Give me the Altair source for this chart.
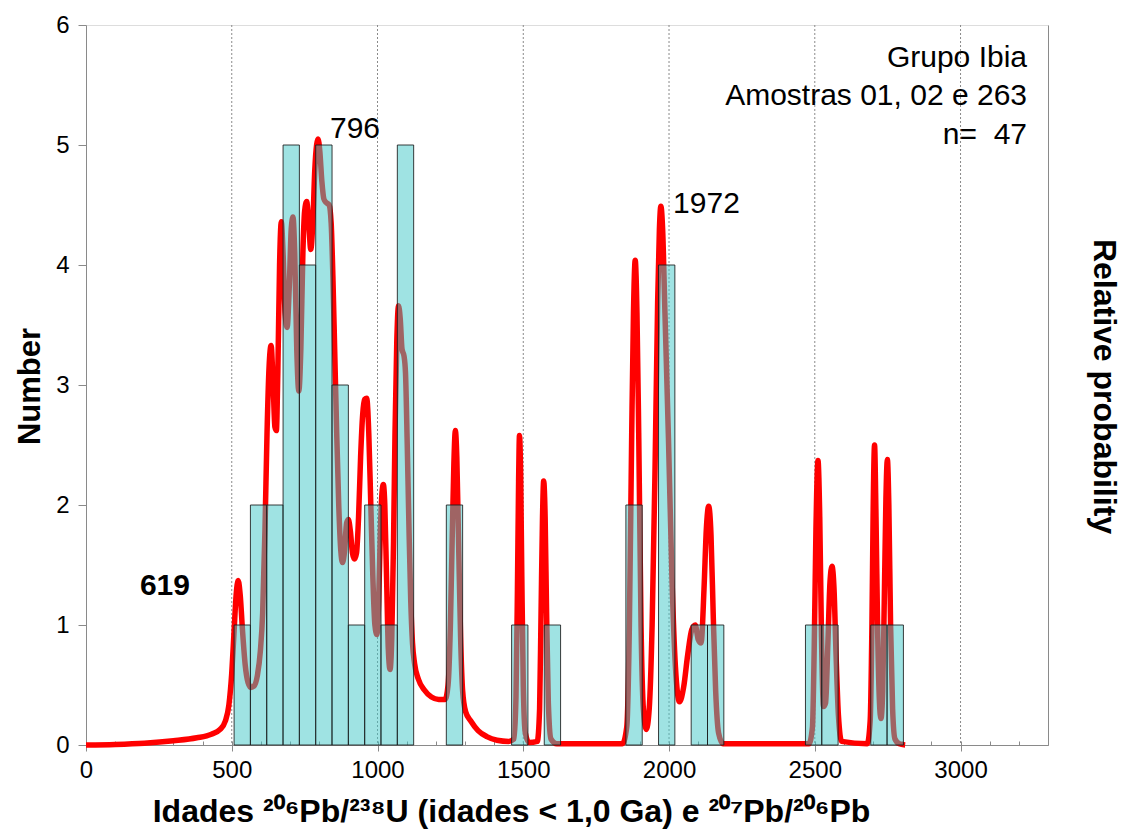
import altair as alt
import pandas as pd

# ---- histogram (bin starts, width 56 Ma) ----
bin_start = [508, 564, 620, 676, 732, 788, 844, 900, 956, 1012, 1068,
             1236, 1460, 1572, 1852, 1964, 2076, 2132, 2468, 2524, 2692, 2748]
bin_count = [1, 2, 2, 5, 4, 5, 3, 1, 2, 1, 5,
             2, 1, 1, 2, 4, 1, 1, 1, 1, 1, 1]
bin_width = 56

# ---- probability density curve (in "Number" units) ----
curve_age = [0, 100, 200, 300, 380, 430, 460, 478, 490, 500, 508, 515, 522, 529, 537, 546, 556, 566, 576,
             588, 598, 606, 614, 621, 628, 635, 642, 648, 653, 658, 664, 670, 676, 683, 690, 697, 704, 710,
             716, 723, 730, 737, 744, 750, 757, 764, 771, 778, 785, 791, 796, 802, 809, 816, 824, 834, 841,
             847, 853, 860, 867, 874, 880, 887, 894, 900, 907, 914, 921, 928, 935, 942, 949, 956, 963, 970,
             977, 984, 991, 998, 1004, 1010, 1016, 1020, 1025, 1031, 1037, 1043, 1049, 1055, 1060, 1066,
             1072, 1078, 1084, 1091, 1096, 1102, 1108, 1114, 1120, 1127, 1140, 1160, 1185, 1210, 1232,
             1242, 1250, 1256, 1262, 1267, 1272, 1278, 1285, 1292, 1302, 1320, 1345, 1375, 1410, 1450,
             1468, 1475, 1480, 1484, 1487, 1491, 1495, 1500, 1507, 1520, 1548, 1556, 1561, 1566, 1570,
             1575, 1580, 1586, 1595, 1615, 1840, 1855, 1864, 1872, 1878, 1884, 1890, 1896, 1904, 1912,
             1922, 1932, 1942, 1952, 1961, 1967, 1972, 1978, 1986, 1998, 2010, 2022, 2036, 2050, 2064,
             2078, 2090, 2100, 2110, 2120, 2128, 2136, 2144, 2152, 2160, 2170, 2185, 2480, 2492, 2498,
             2504, 2511, 2517, 2523, 2530, 2537, 2545, 2552, 2559, 2566, 2573, 2581, 2592, 2680, 2690,
             2696, 2700, 2705, 2710, 2716, 2722, 2727, 2733, 2739, 2744, 2749, 2754, 2760, 2767, 2775,
             2790, 2810]
curve_prob = [0.0, 0.005, 0.015, 0.035, 0.06, 0.09, 0.13, 0.2, 0.33, 0.6, 0.95, 1.25, 1.37, 1.25, 0.95, 0.67,
              0.52, 0.48, 0.49, 0.58, 0.78, 1.1, 1.8, 2.6, 3.15, 3.33, 3.0, 2.65, 2.62, 3.1, 4.0, 4.36, 4.1,
              3.6, 3.48, 3.8, 4.3, 4.4, 4.1, 3.3, 2.95, 3.3, 4.1, 4.45, 4.53, 4.35, 4.13, 4.35, 4.8, 5.0,
              5.05, 4.95, 4.7, 4.55, 4.52, 4.5, 4.35, 3.9, 3.3, 2.6, 2.0, 1.62, 1.52, 1.62, 1.85, 1.88,
              1.78, 1.6, 1.55, 1.6, 1.9, 2.4, 2.75, 2.88, 2.89, 2.6, 2.0, 1.4, 1.0, 0.92, 1.2, 1.8, 2.12,
              2.17, 2.0, 1.4, 0.8, 0.63, 0.9, 1.7, 2.6, 3.35, 3.66, 3.55, 3.3, 3.24, 3.1, 2.5, 1.8, 1.2,
              0.85, 0.68, 0.55, 0.46, 0.4, 0.38, 0.38, 0.5, 1.0, 1.7, 2.35, 2.62, 2.4, 1.7, 0.9, 0.45,
              0.28, 0.2, 0.12, 0.07, 0.04, 0.03, 0.05, 0.4, 1.3, 2.2, 2.58, 2.25, 1.4, 0.5, 0.1, 0.02,
              0.03, 0.3, 1.1, 1.9, 2.2, 1.9, 1.1, 0.35, 0.05, 0.01, 0.01, 0.15, 1.0, 2.6, 3.6, 4.04, 3.6,
              2.6, 1.0, 0.3, 0.13, 0.3, 1.0, 2.3, 3.7, 4.3, 4.49, 4.3, 3.6, 2.56, 1.4, 0.65, 0.36, 0.48,
              0.75, 0.96, 1.0, 0.88, 0.85, 1.3, 1.8, 1.99, 1.75, 1.05, 0.45, 0.1, 0.01, 0.01, 0.15, 0.8,
              1.8, 2.37, 1.9, 0.9, 0.32, 0.35, 0.85, 1.35, 1.49, 1.3, 0.75, 0.25, 0.03, 0.01, 0.2, 1.0,
              1.9, 2.5, 1.9, 0.9, 0.35, 0.22, 0.45, 1.3, 2.05, 2.38, 2.0, 1.0, 0.3, 0.05, 0.01, 0.0]

grid_ages = [500, 1000, 1500, 2000, 2500, 3000]
x_major_values = [0, 500, 1000, 1500, 2000, 2500, 3000]
x_minor_values = [0, 100, 200, 300, 400, 500, 600, 700, 800, 900, 1000, 1100, 1200, 1300, 1400, 1500,
                  1600, 1700, 1800, 1900, 2000, 2100, 2200, 2300, 2400, 2500, 2600, 2700, 2800, 2900,
                  3000, 3100, 3200, 3300]
y_tick_values = [0, 1, 2, 3, 4, 5, 6]

peak_labels = ["796", "1972"]
peak_label_age = [837, 2014]
peak_label_y = [5.06, 4.43]

bold_labels = ["619"]
bold_label_age = [185]
bold_label_y = [1.25]

info_lines = ["Grupo Ibia", "Amostras 01, 02 e 263", "n=\u00a0\u00a047"]
info_age = [3228, 3228, 3228]
info_y = [5.65, 5.33, 5.01]

FONT = "Liberation Sans"
GRAY = "#8a8a8a"

bins_df = pd.DataFrame({"start": bin_start, "count": bin_count})
bins_df["end"] = bins_df["start"] + bin_width
curve_df = pd.DataFrame({"age": curve_age, "prob": curve_prob})
grid_df = pd.DataFrame({"age": grid_ages})
peak_df = pd.DataFrame({"t": peak_labels, "age": peak_label_age, "y": peak_label_y})
bold_df = pd.DataFrame({"t": bold_labels, "age": bold_label_age, "y": bold_label_y})
info_df = pd.DataFrame({"t": info_lines, "age": info_age, "y": info_y})

xscale = alt.Scale(domain=[0, 3300], nice=False, zero=False)
yscale = alt.Scale(domain=[0, 6], nice=False, zero=True)

x_major_axis = alt.Axis(
    orient="bottom", values=x_major_values, format="d",
    grid=False, tickSize=6, tickColor=GRAY, domainColor=GRAY,
    labelFont=FONT, labelFontSize=24, labelColor="black", labelPadding=7,
    labelFlush=False, labelOverlap=False,
    title="Idades \u00b2\u2070\u2076Pb/\u00b2\u00b3\u2078U (idades < 1,0 Ga) e \u00b2\u2070\u2077Pb/\u00b2\u2070\u2076Pb",
    titleFont=FONT, titleFontSize=32, titleFontWeight="bold", titleColor="black",
    titleX=425, titleY=76, titleAlign="center", titleBaseline="alphabetic",
)

x_minor_axis = alt.Axis(
    orient="bottom", values=x_minor_values, labels=False, domain=False, grid=False,
    tickSize=4, tickColor=GRAY, offset=-4, title=None,
)

grid = alt.Chart(grid_df).mark_rule(color=GRAY, strokeDash=[2, 2], strokeWidth=1).encode(
    x=alt.X("age:Q", scale=xscale, axis=x_major_axis)
)

line = alt.Chart(curve_df).mark_line(
    color="#ff0000", strokeWidth=5.5, interpolate="monotone", strokeJoin="round"
).encode(
    x=alt.X("age:Q", scale=xscale, axis=None),
    y=alt.Y("prob:Q", scale=yscale, axis=alt.Axis(
        orient="right", title="Relative probability", labels=False, ticks=False, grid=False,
        domainColor=GRAY, domainWidth=1,
        titleFont=FONT, titleFontSize=32, titleFontWeight="bold", titleColor="black",
        titleAngle=90, titleAlign="center", titleBaseline="middle", titleX=55, titleY=361,
    )),
)

bars = alt.Chart(bins_df).mark_rect(
    fill="#40c8c8", fillOpacity=0.5, stroke="#1a1a1a", strokeWidth=1, strokeOpacity=0.85
).encode(
    x=alt.X("start:Q", scale=xscale, axis=x_minor_axis),
    x2="end:Q",
    y=alt.Y("count:Q", scale=yscale, axis=alt.Axis(
        orient="left", values=y_tick_values, grid=False, tickSize=8, tickColor=GRAY, domainColor=GRAY,
        labelFont=FONT, labelFontSize=24, labelColor="black", labelPadding=9,
        title="Number", titleFont=FONT, titleFontSize=31, titleFontWeight="bold", titleColor="black",
        titleAngle=270, titleAlign="center", titleBaseline="middle", titleX=-56, titleY=361,
    )),
    y2=alt.datum(0),
)

peak_text = alt.Chart(peak_df).mark_text(
    align="left", baseline="alphabetic", font=FONT, fontSize=30, color="black"
).encode(
    x=alt.X("age:Q", scale=xscale, axis=None),
    y=alt.Y("y:Q", scale=yscale, axis=None),
    text="t:N",
)

bold_text = alt.Chart(bold_df).mark_text(
    align="left", baseline="alphabetic", font=FONT, fontSize=30, fontWeight="bold", color="black"
).encode(
    x=alt.X("age:Q", scale=xscale, axis=None),
    y=alt.Y("y:Q", scale=yscale, axis=None),
    text="t:N",
)

info_text = alt.Chart(info_df).mark_text(
    align="right", baseline="alphabetic", font=FONT, fontSize=30, color="black"
).encode(
    x=alt.X("age:Q", scale=xscale, axis=None),
    y=alt.Y("y:Q", scale=yscale, axis=None),
    text="t:N",
)

chart = alt.layer(grid, line, bars, peak_text, bold_text, info_text).resolve_scale(
    x="independent", y="independent"
).properties(
    width=962, height=720,
    padding={"left": 86, "top": 25, "right": 78, "bottom": 86},
    autosize=alt.AutoSizeParams(type="none"),
    background="white",
).configure_view(stroke="black", strokeWidth=1).configure(font=FONT)

chart.save("out.html", embed_options={"renderer": "svg", "actions": False})
